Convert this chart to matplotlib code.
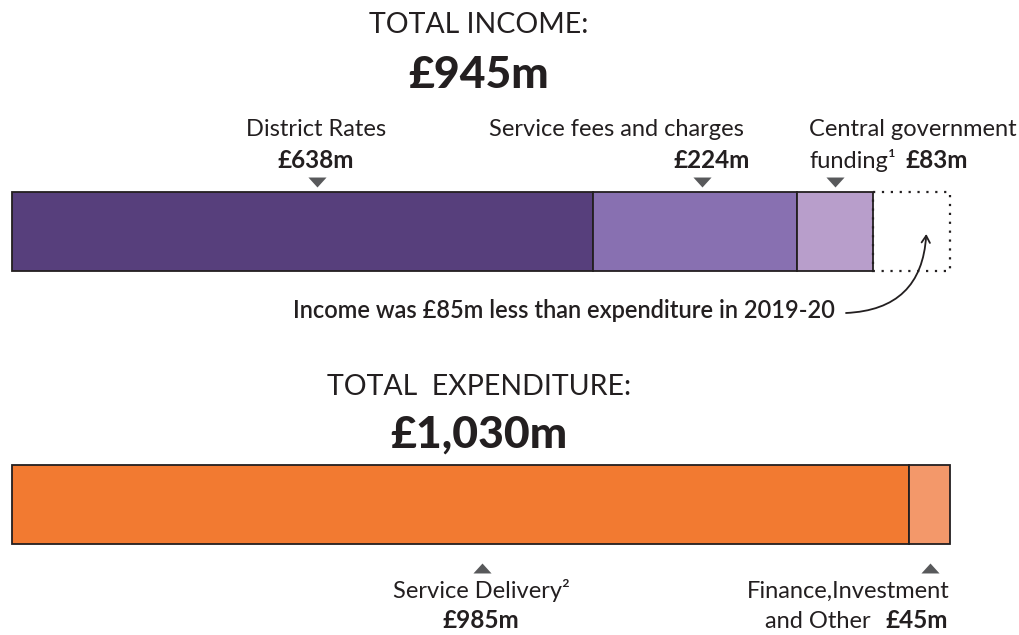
import matplotlib
matplotlib.use("Agg")
import matplotlib.pyplot as plt

# 数据
income_labels = ["District Rates", "Service fees and charges", "Central government funding"]
income_values = [638, 224, 83]
income_colors = ["#573F7C", "#8870B1", "#B89ECB"]

exp_labels = ["Service Delivery", "Finance,Investment and Other"]
exp_values = [985, 45]
exp_colors = ["#F27A31", "#F3986A"]

total_income = sum(income_values)
total_exp = sum(exp_values)
shortfall = total_exp - total_income

plt.rcParams["font.family"] = ["Lato", "DejaVu Sans"]

W, H = 1019, 635
fig = plt.figure(figsize=(W / 100, H / 100), dpi=100)
ax = fig.add_axes([0, 0, 1, 1])

# x in £m, y in pixels from top
x0_px, scale = 12, 938 / total_exp
ax.set_xlim(-x0_px / scale, (W - x0_px) / scale)
ax.set_ylim(H, 0)
ax.axis("off")


def px(x):
    """pixel x -> £m"""
    return (x - x0_px) / scale


TXT = "#231F20"
TRI = "#58595B"
TRI_DOWN = [(-1, 0.55), (1, 0.55), (0, -0.55), (-1, 0.55)]
TRI_UP = [(-1, -0.55), (1, -0.55), (0, 0.55), (-1, -0.55)]

# ---- 收入条 ----
inc_y, bar_h = 231.5, 79
left = 0
inc_centers = []
for v, c in zip(income_values, income_colors):
    ax.barh(inc_y, v, left=left, height=bar_h, color=c, edgecolor="#231F20", linewidth=1.3)
    inc_centers.append(left + v / 2)
    left += v
# 缺口虚线框
ax.barh(inc_y, shortfall, left=left, height=bar_h, facecolor="none",
        edgecolor="#231F20", linewidth=1.6, linestyle=(0, (1, 3)))

# 三角标记
tri_x = [inc_centers[0] + px(316) - px(302), inc_centers[1] + px(702) - px(695), inc_centers[2]]
ax.scatter(tri_x, [182] * 3, marker=TRI_DOWN, s=170, color=TRI, linewidths=0, zorder=5)

# ---- 支出条 ----
exp_y = 504.5
left = 0
exp_centers = []
for v, c in zip(exp_values, exp_colors):
    ax.barh(exp_y, v, left=left, height=bar_h, color=c, edgecolor="#231F20", linewidth=1.3)
    exp_centers.append(left + v / 2)
    left += v
tri2_x = [exp_centers[0] + px(481) - px(460), exp_centers[1]]
ax.scatter(tri2_x, [568] * 2, marker=TRI_UP, s=170, color=TRI, linewidths=0, zorder=5)

# ---- 标题 ----
ax.text(px(479), 25, "TOTAL INCOME:", ha="center", va="center", fontsize=20.5, color=TXT)
ax.text(px(479), 75, f"£{total_income}m", ha="center", va="center", fontsize=32,
        fontweight="black", color=TXT)
ax.text(px(479), 387, "TOTAL  EXPENDITURE:", ha="center", va="center", fontsize=20.5, color=TXT)
ax.text(px(479), 435, f"£{total_exp:,}m", ha="center", va="center", fontsize=32,
        fontweight="black", color=TXT)

# ---- 收入标签 ----
lab_fs = 17
val_fs = 17.5
ax.text(px(316), 130, income_labels[0], ha="center", va="center", fontsize=lab_fs, color=TXT)
ax.text(px(316), 160, f"£{income_values[0]}m", ha="center", va="center", fontsize=val_fs,
        fontweight="bold", color=TXT)
ax.text(px(616), 130, income_labels[1], ha="center", va="center", fontsize=lab_fs, color=TXT)
ax.text(px(750), 160, f"£{income_values[1]}m", ha="right", va="center", fontsize=val_fs,
        fontweight="bold", color=TXT)
ax.text(px(809), 130, "Central government", ha="left", va="center", fontsize=lab_fs, color=TXT)
ax.text(px(809), 160, "funding¹", ha="left", va="center", fontsize=lab_fs, color=TXT)
ax.text(px(968), 160, f"£{income_values[2]}m", ha="right", va="center", fontsize=val_fs,
        fontweight="bold", color=TXT)

# ---- 注释 ----
ax.text(px(835), 311, f"Income was £{shortfall}m less than expenditure in 2019-20",
        ha="right", va="center", fontsize=17, fontweight="semibold", color=TXT)
ax.annotate("", xy=(total_income + shortfall / 2 - px(911) + px(926), 234),
            xytext=(px(846), 313),
            arrowprops=dict(arrowstyle="->,head_length=0.5,head_width=0.3", color=TXT, lw=1.3,
                            connectionstyle="arc3,rad=0.45", shrinkA=0, shrinkB=0))

# ---- 支出标签 ----
ax.text(px(481), 591, "Service Delivery²", ha="center", va="center", fontsize=lab_fs, color=TXT)
ax.text(px(481), 621, f"£{exp_values[0]}m", ha="center", va="center", fontsize=val_fs,
        fontweight="bold", color=TXT)
ax.text(px(950), 591, "Finance,Investment", ha="right", va="center", fontsize=lab_fs, color=TXT)
ax.text(px(765), 621, "and Other", ha="left", va="center", fontsize=lab_fs, color=TXT)
ax.text(px(948), 621, f"£{exp_values[1]}m", ha="right", va="center", fontsize=val_fs,
        fontweight="bold", color=TXT)

fig.savefig("out.png", dpi=100, facecolor="white")
